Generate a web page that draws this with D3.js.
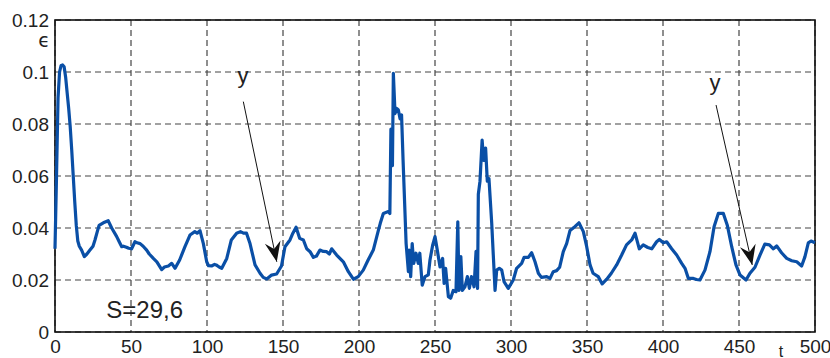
<!DOCTYPE html>
<html>
<head>
<meta charset="utf-8">
<script src="https://cdn.jsdelivr.net/npm/d3@7"></script>
<style>
  body { margin: 0; background: #fff; }
  svg { display: block; font-family: "Liberation Sans", Arial, sans-serif; }
</style>
</head>
<body>
<svg width="830" height="358"></svg>
<script>
// t, epsilon
const curve = [
  [0,0.032],[1,0.06],[2,0.09],[3,0.1],[4,0.1025],[5,0.1027],[6,0.102],[7,0.098],[8,0.092],[9,0.086],
  [10,0.079],[11,0.07],[12,0.06],[13,0.05],[14,0.041],[15,0.035],[16,0.033],[17.5,0.0315],[19.3,0.029],
  [21,0.030],[23,0.0315],[25,0.033],[26.3,0.0354],[28,0.039],[29,0.041],[31.8,0.042],[35,0.0428],
  [37.3,0.040],[40.6,0.0367],[42,0.035],[43.9,0.0328],[45,0.033],[47,0.0326],[48.5,0.0322],[50.4,0.032],
  [52.6,0.0347],[54,0.0343],[56,0.034],[58,0.033],[60.3,0.0315],[62,0.030],[64.7,0.0283],[67,0.027],
  [70.2,0.024],[72,0.025],[74.6,0.0254],[76.8,0.0264],[79,0.0245],[82,0.0277],[85.5,0.0328],[88.8,0.0373],
  [92,0.0386],[93.5,0.038],[95.4,0.039],[97.6,0.034],[99.8,0.027],[101,0.0255],[103,0.0254],[105,0.026],
  [106,0.0258],[108,0.025],[109.7,0.0245],[113,0.0283],[116,0.0354],[119.5,0.038],[122,0.0386],[124,0.038],
  [126,0.038],[128.3,0.034],[131.6,0.0258],[134.9,0.0226],[137,0.021],[139.3,0.0204],[142.5,0.0219],
  [145.8,0.0223],[149,0.0254],[151.3,0.0328],[154.6,0.0354],[156.5,0.038],[158.6,0.0403],[161,0.036],
  [163.4,0.0354],[165.6,0.032],[167.8,0.0309],[170,0.0287],[172,0.0292],[174.3,0.0315],[176.5,0.031],
  [178.7,0.0309],[180.5,0.030],[182,0.032],[185.3,0.0296],[189.7,0.027],[193,0.0232],[196.3,0.0203],
  [199.5,0.0213],[202.8,0.0238],[206,0.0277],[209.4,0.0315],[212.7,0.039],[214,0.0418],[216,0.0456],
  [219.3,0.0463],[220.3,0.0456],[221,0.078],[222,0.064],[222.6,0.0995],[223.7,0.084],[224.8,0.086],
  [225.9,0.0854],[227,0.082],[228,0.0835],[229,0.066],[231,0.034],[232.5,0.0232],[233,0.0315],[234,0.0213],
  [235,0.034],[236,0.0264],[237.5,0.0303],[239,0.0264],[240,0.0303],[241.6,0.018],[243.4,0.0213],
  [245.6,0.022],[246.7,0.0277],[248.5,0.0335],[250,0.0367],[251.5,0.0315],[253.3,0.025],[255,0.0283],
  [256,0.0187],[257,0.0245],[258.8,0.0136],[260.3,0.013],[262,0.016],[263.8,0.0155],[265,0.0424],
  [265.8,0.016],[267,0.029],[268,0.016],[269.7,0.0174],[271.3,0.0213],[272.6,0.0168],[274,0.0213],
  [275.7,0.0174],[277,0.031],[278,0.0168],[278.5,0.053],[279.6,0.058],[281,0.0738],[282,0.066],
  [283.3,0.0707],[284.4,0.058],[285.5,0.059],[287.3,0.042],[289.5,0.016],[290.6,0.0238],[292.3,0.0245],
  [293.9,0.0238],[295.4,0.0194],[298.2,0.0168],[301.5,0.02],[303.7,0.0245],[307,0.0264],[308.6,0.0287],
  [311.4,0.0287],[313.6,0.0305],[315.8,0.027],[318,0.0226],[320,0.021],[323.5,0.0213],[325.7,0.0206],
  [327.8,0.0232],[330,0.0236],[332,0.0249],[334.4,0.0309],[336.6,0.034],[338.8,0.039],[342,0.0405],
  [344.7,0.042],[347.6,0.0386],[349.8,0.0328],[352,0.0258],[354,0.0226],[357.4,0.0213],[360,0.0185],
  [363,0.0203],[366,0.0226],[369.5,0.0258],[372.8,0.0296],[376,0.0335],[379.4,0.0354],[381.6,0.038],
  [384.4,0.032],[387,0.0335],[390,0.0325],[392.6,0.032],[395.8,0.0347],[397.6,0.0356],[400.2,0.0343],
  [402.4,0.0347],[405.7,0.032],[409,0.0296],[412.3,0.0264],[414.5,0.0245],[416.7,0.0206],[420,0.0206],
  [422,0.0202],[424.3,0.02],[427.6,0.0238],[430.9,0.0309],[433.6,0.0405],[436.4,0.0456],[439.7,0.0456],
  [442.3,0.0411],[445.2,0.0328],[448,0.0258],[450.7,0.0219],[454.6,0.02],[457.2,0.0226],[460.5,0.0249],
  [463.8,0.0296],[467,0.0338],[470,0.0335],[472.6,0.032],[474.8,0.0331],[478,0.0305],[481.4,0.0283],
  [484.7,0.0274],[488,0.027],[491.2,0.0254],[493.4,0.029],[495.6,0.0343],[497.4,0.035],[500,0.0343]
];

const xTicks = [0, 50, 100, 150, 200, 250, 300, 350, 400, 450, 500];
const yTicks = [0, 0.02, 0.04, 0.06, 0.08, 0.1, 0.12];

// arrow annotations: label pos, arrow start, arrow tip (data coords)
const notes = [
  { label: 'y', lt: 123.7, le: 0.0958, t0: 123.9, e0: 0.0886, t1: 145.9, e1: 0.027 },
  { label: 'y', lt: 434.2, le: 0.093, t0: 434.9, e0: 0.0873, t1: 458.7, e1: 0.0258 }
];
const sText = 'S=29,6';

const margin = { top: 20, right: 15, bottom: 26, left: 55 };
const W = 830, H = 358;
const w = W - margin.left - margin.right;
const h = H - margin.top - margin.bottom;

const svg = d3.select('svg');
const g = svg.append('g').attr('transform', `translate(${margin.left},${margin.top})`);

const x = d3.scaleLinear().domain([0, 500]).range([0, w]);
const y = d3.scaleLinear().domain([0, 0.12]).range([h, 0]);

// grid
g.append('g').selectAll('line').data(xTicks).enter().append('line')
  .attr('x1', d => x(d)).attr('x2', d => x(d)).attr('y1', 0).attr('y2', h)
  .attr('stroke', '#444').attr('stroke-width', 1.2).attr('stroke-dasharray', '6,4');
g.append('g').selectAll('line').data(yTicks).enter().append('line')
  .attr('y1', d => y(d)).attr('y2', d => y(d)).attr('x1', 0).attr('x2', w)
  .attr('stroke', '#444').attr('stroke-width', 1.2).attr('stroke-dasharray', '6,4');

// frame
g.append('rect').attr('x', 0).attr('y', 0).attr('width', w).attr('height', h)
  .attr('fill', 'none').attr('stroke', '#111').attr('stroke-width', 1.6);

// axes labels
const xAxis = d3.axisBottom(x).tickValues(xTicks).tickSize(0).tickPadding(8);
const yAxis = d3.axisLeft(y).tickValues(yTicks).tickSize(0).tickPadding(6)
  .tickFormat(d => d === 0 ? '0' : String(+d.toFixed(2)));
const gx = g.append('g').attr('transform', `translate(0,${h})`).call(xAxis);
const gy = g.append('g').call(yAxis);
[gx, gy].forEach(a => {
  a.select('.domain').remove();
  a.selectAll('text').attr('font-size', 19).attr('fill', '#222')
    .attr('font-family', '"Liberation Sans", Arial, sans-serif');
});

// curve
const line = d3.line().x(d => x(d[0])).y(d => y(d[1]));
g.append('path').datum(curve).attr('d', line)
  .attr('fill', 'none').attr('stroke', '#0a4fa6').attr('stroke-width', 3.2)
  .attr('stroke-linejoin', 'round');

// arrow marker
svg.append('defs').append('marker')
  .attr('id', 'arr').attr('viewBox', '-22 -10 24 20')
  .attr('refX', 0).attr('refY', 0)
  .attr('markerWidth', 24).attr('markerHeight', 20)
  .attr('markerUnits', 'userSpaceOnUse').attr('orient', 'auto')
  .append('path').attr('d', 'M0,0 L-20,-8 L-13,0 L-20,8 Z').attr('fill', '#111');

notes.forEach(n => {
  g.append('line')
    .attr('x1', x(n.t0)).attr('y1', y(n.e0)).attr('x2', x(n.t1)).attr('y2', y(n.e1))
    .attr('stroke', '#111').attr('stroke-width', 1).attr('marker-end', 'url(#arr)');
  g.append('text').attr('x', x(n.lt)).attr('y', y(n.le))
    .attr('text-anchor', 'middle').attr('font-size', 22).attr('fill', '#222').text(n.label);
});

// extra text
g.append('text').attr('x', x(59)).attr('y', y(0.0053)).attr('text-anchor', 'middle')
  .attr('font-size', 24).attr('fill', '#222').text(sText);
svg.append('text').attr('x', 50).attr('y', 47).attr('text-anchor', 'end')
  .attr('font-size', 19).attr('fill', '#222').attr('font-family', '"DejaVu Sans", sans-serif').text('ϵ');
svg.append('text').attr('x', 781).attr('y', 357).attr('text-anchor', 'middle')
  .attr('font-size', 16).attr('fill', '#222').text('t');
</script>
</body>
</html>
